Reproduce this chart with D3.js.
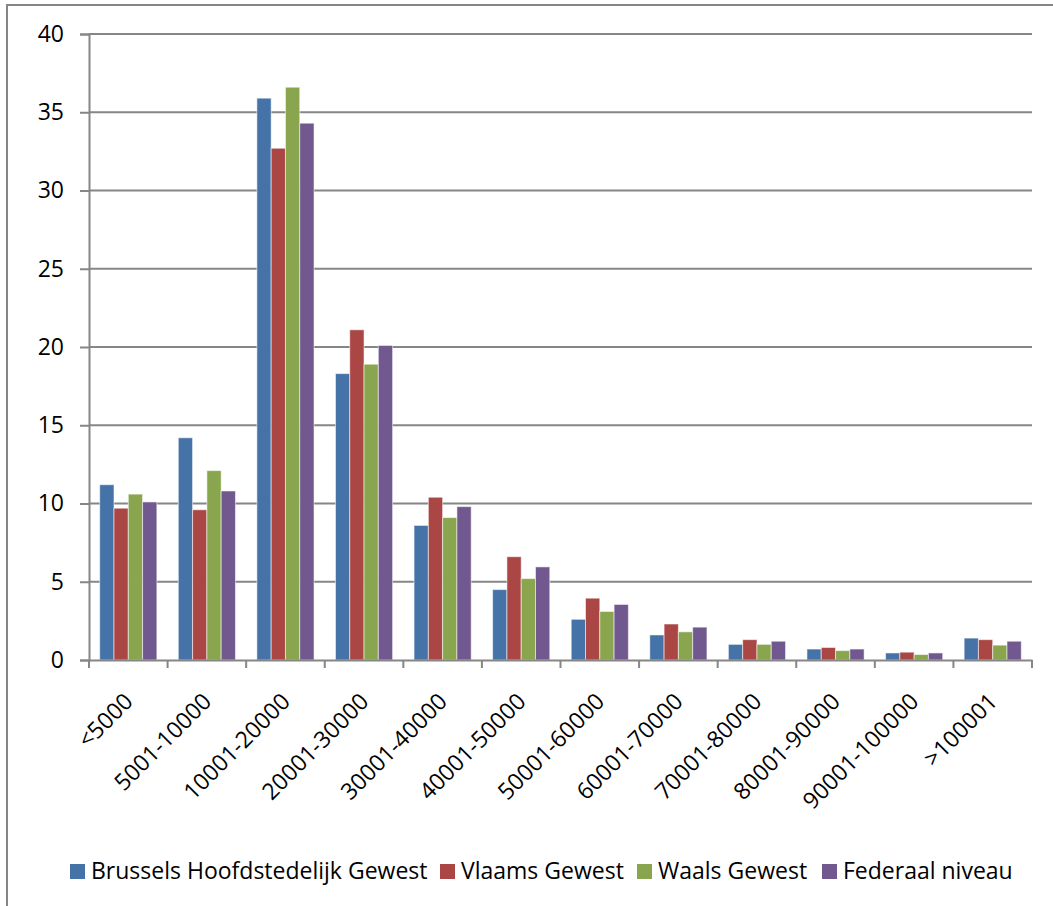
<!DOCTYPE html>
<html>
<head>
<meta charset="utf-8">
<script src="https://cdn.jsdelivr.net/npm/d3@7"></script>
<style>
  html, body { margin: 0; padding: 0; background: #fff; }
  svg text { font-family: "Open Sans", Lato, sans-serif; fill: #000; }
</style>
</head>
<body>
<svg id="chart" width="1053" height="906"></svg>
<script>
const categories = ["<5000","5001-10000","10001-20000","20001-30000","30001-40000","40001-50000",
  "50001-60000","60001-70000","70001-80000","80001-90000","90001-100000",">100001"];
const seriesNames = ["Brussels Hoofdstedelijk Gewest","Vlaams Gewest","Waals Gewest","Federaal niveau"];
const brussels = [11.2, 14.2, 35.9, 18.3, 8.6, 4.5, 2.6, 1.6, 1.0, 0.7, 0.45, 1.4];
const vlaams   = [9.7, 9.6, 32.7, 21.1, 10.4, 6.6, 3.95, 2.3, 1.3, 0.8, 0.5, 1.3];
const waals    = [10.6, 12.1, 36.6, 18.9, 9.1, 5.2, 3.1, 1.8, 1.0, 0.6, 0.35, 0.95];
const federaal = [10.1, 10.8, 34.3, 20.1, 9.8, 5.95, 3.55, 2.1, 1.2, 0.7, 0.45, 1.2];
const yTicks = [0, 5, 10, 15, 20, 25, 30, 35, 40];
const colors = ["#4572A7", "#AA4643", "#89A54E", "#71588F"];

const series = [brussels, vlaams, waals, federaal];
const svg = d3.select("#chart");
const gray = "#868686";
const FONT = "'Open Sans', Lato, sans-serif";
const FS = "23px";

// outer border
svg.append("rect").attr("x", 7).attr("y", 5).attr("width", 1060).attr("height", 920)
  .attr("fill", "none").attr("stroke", gray).attr("stroke-width", 2);

const pLeft = 89, pRight = 1032, pTop = 34, pBottom = 660;
const x = d3.scaleBand().domain(categories).range([pLeft, pRight]).paddingInner(0).paddingOuter(0);
const y = d3.scaleLinear().domain([0, 40]).range([pBottom, pTop]);

// 4 bars + gap of 150% of a bar width
const bw = x.bandwidth() / 5.5;
const off = bw * 0.75;

// gridlines
svg.append("g").selectAll("line").data(yTicks.filter(d => d > 0)).join("line")
  .attr("x1", pLeft).attr("x2", pRight)
  .attr("y1", d => y(d)).attr("y2", d => y(d))
  .attr("stroke", gray).attr("stroke-width", 2);

// bars
series.forEach((vals, si) => {
  svg.append("g").selectAll("rect").data(vals).join("rect")
    .attr("x", (d, i) => x(categories[i]) + off + si * bw)
    .attr("y", d => y(d))
    .attr("width", bw)
    .attr("height", d => pBottom - y(d))
    .attr("fill", colors[si])
    .attr("stroke", "rgba(255,255,255,0.55)")
    .attr("stroke-width", 1);
});

// y axis
const yAxis = d3.axisLeft(y).tickValues(yTicks).tickSize(9).tickPadding(16).tickFormat(d3.format("d"));
const gy = svg.append("g").attr("transform", `translate(${pLeft},0)`).call(yAxis);
gy.attr("font-family", null).attr("font-size", null);
gy.select(".domain").attr("stroke", gray).attr("stroke-width", 2);
gy.selectAll(".tick line").attr("stroke", gray).attr("stroke-width", 2);
gy.selectAll(".tick text").style("font-size", FS).style("font-family", FONT);

// x axis
const xAxis = d3.axisBottom(x).tickSize(0).tickFormat("");
const gx = svg.append("g").attr("transform", `translate(0,${pBottom})`).call(xAxis);
gx.select(".domain").attr("stroke", gray).attr("stroke-width", 2);
// category boundary ticks
const bounds = categories.map(c => x(c)).concat([pRight]);
svg.append("g").selectAll("line").data(bounds).join("line")
  .attr("x1", d => d).attr("x2", d => d).attr("y1", pBottom).attr("y2", pBottom + 8)
  .attr("stroke", gray).attr("stroke-width", 2);

// rotated category labels
svg.append("g").selectAll("text").data(categories).join("text")
  .attr("transform", d => `translate(${x(d) + x.bandwidth() / 2 + 6},${pBottom + 43}) rotate(-45)`)
  .attr("text-anchor", "end")
  .style("font-size", FS)
  .text(d => d);

// legend
const legendItems = [
  { name: seriesNames[0], mx: 70 },
  { name: seriesNames[1], mx: 440 },
  { name: seriesNames[2], mx: 637 },
  { name: seriesNames[3], mx: 822 }
];
const lg = svg.append("g");
legendItems.forEach((it, i) => {
  lg.append("rect").attr("x", it.mx).attr("y", 864).attr("width", 15).attr("height", 15).attr("fill", colors[i]);
  lg.append("text").attr("x", it.mx + 21).attr("y", 879).style("font-size", FS).text(it.name);
});
</script>
</body>
</html>
